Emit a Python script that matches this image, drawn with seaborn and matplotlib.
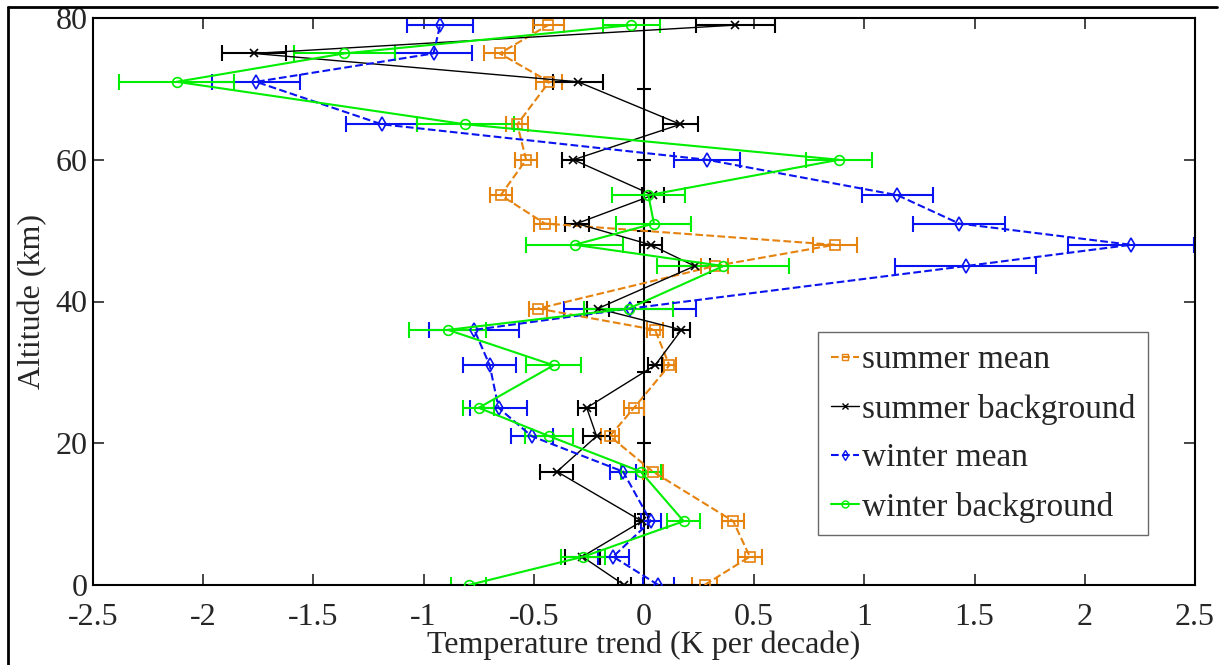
import numpy as np
import pandas as pd
import matplotlib
matplotlib.use("Agg")
import matplotlib.pyplot as plt
import seaborn as sns
from matplotlib.lines import Line2D

# altitudes (km) shared by all four profiles
alt = [0, 4, 9, 16, 21, 25, 31, 36, 39, 45, 48, 51, 55, 60, 65, 71, 75, 79]

# temperature trends (K per decade) and their uncertainties
summer_mean = [0.275, 0.48, 0.405, 0.04, -0.155, -0.045, 0.115, 0.05, -0.48, 0.32,
               0.865, -0.45, -0.65, -0.535, -0.575, -0.43, -0.655, -0.435]
summer_mean_err = [0.055, 0.055, 0.05, 0.045, 0.04, 0.045, 0.03, 0.035, 0.04, 0.06,
                   0.1, 0.05, 0.05, 0.05, 0.05, 0.06, 0.07, 0.07]

summer_bg = [-0.09, -0.28, -0.01, -0.395, -0.215, -0.26, 0.05, 0.17, -0.21, 0.23,
             0.03, -0.305, 0.04, -0.32, 0.165, -0.30, -1.77, 0.415]
summer_bg_err = [0.03, 0.08, 0.03, 0.075, 0.06, 0.04, 0.03, 0.04, 0.05, 0.07,
                 0.05, 0.055, 0.05, 0.05, 0.08, 0.115, 0.145, 0.18]

winter_mean = [0.065, -0.14, 0.03, -0.095, -0.51, -0.66, -0.70, -0.77, -0.065, 1.46,
               2.21, 1.43, 1.15, 0.285, -1.19, -1.76, -0.955, -0.925]
winter_mean_err = [0.07, 0.07, 0.045, 0.06, 0.095, 0.13, 0.12, 0.205, 0.3, 0.32,
                   0.285, 0.21, 0.16, 0.15, 0.16, 0.2, 0.175, 0.15]

winter_bg = [-0.795, -0.275, 0.18, -0.015, -0.43, -0.75, -0.41, -0.89, -0.07, 0.36,
             -0.315, 0.045, 0.02, 0.885, -0.81, -2.12, -1.36, -0.057]
winter_bg_err = [0.08, 0.1, 0.075, 0.09, 0.11, 0.07, 0.125, 0.175, 0.2, 0.3,
                 0.22, 0.17, 0.165, 0.15, 0.22, 0.26, 0.23, 0.13]

labels = ["summer mean", "summer background", "winter mean", "winter background"]

sns.set_style("ticks")
plt.rcParams["font.family"] = ["Liberation Serif", "DejaVu Serif"]

fig = plt.figure(figsize=(12.27, 6.65), dpi=100)
ax = fig.add_axes([93 / 1227, 80 / 665, 1102 / 1227, 567 / 665])

styles = [
    (summer_mean, summer_mean_err, "#E6820E", "--", "s", 1.5),
    (summer_bg, summer_bg_err, "black", "-", "x", 1.0),
    (winter_mean, winter_mean_err, "#0A14F0", "--", "d", 1.5),
    (winter_bg, winter_bg_err, "#00EE00", "-", "o", 1.5),
]

handles = []
for (vals, errs, col, ls, mk, lw), lab in zip(styles, labels):
    ax.errorbar(vals, alt, xerr=errs, fmt="none", ecolor=col, elinewidth=1.5,
                capsize=6, capthick=1.5, zorder=2)
    sns.lineplot(x=vals, y=alt, sort=False, estimator=None, ax=ax, color=col,
                 linestyle=ls, linewidth=lw, marker=mk, markersize=7 if mk != "x" else 6,
                 markerfacecolor="none", markeredgecolor=col, markeredgewidth=1.2,
                 zorder=3)
    handles.append(Line2D([0], [0], color=col, linestyle=ls, linewidth=lw,
                          marker=mk, markersize=5, markerfacecolor="none",
                          markeredgecolor=col))

# vertical zero line with small ticks every 10 km
ax.axvline(0, color="black", lw=1.5, zorder=1)
ax.plot([0] * 9, np.arange(0, 81, 10), ls="", marker="_", ms=10,
        color="black", mew=1.5, zorder=1)

ax.set_xlim(-2.5, 2.5)
ax.set_ylim(0, 80)
ax.set_xticks(np.arange(-2.5, 2.51, 0.5))
ax.set_xticklabels(["-2.5", "-2", "-1.5", "-1", "-0.5", "0", "0.5", "1", "1.5", "2", "2.5"])
ax.set_yticks([0, 20, 40, 60, 80])
ax.tick_params(direction="in", length=8, width=1.2, top=True, right=True,
               labelsize=23)
ax.tick_params(axis="x", pad=13)
ax.tick_params(axis="y", pad=4)
for sp in ax.spines.values():
    sp.set_linewidth(1.5)
    sp.set_color("black")

ax.set_xlabel("Temperature trend (K per decade)", fontsize=23, labelpad=-1)
ax.set_ylabel("Altitude (km)", fontsize=23, labelpad=6)

leg = ax.legend(handles, labels, loc="upper left", bbox_to_anchor=(0.658, 0.446),
                borderaxespad=0, fontsize=24, frameon=True, fancybox=False,
                handlelength=0.85, handletextpad=0.1, labelspacing=0.55,
                borderpad=0.38)
leg.get_frame().set_edgecolor("#444444")
leg.get_frame().set_linewidth(1.0)

# outer figure border (left and top)
fig.add_artist(Line2D([8 / 1227, 8 / 1227], [0, 1 - 7 / 665], color="black", lw=2,
                      transform=fig.transFigure))
fig.add_artist(Line2D([8 / 1227, 1217 / 1227], [1 - 7 / 665, 1 - 7 / 665], color="black",
                      lw=2, transform=fig.transFigure))

fig.savefig("out.png", dpi=100)
